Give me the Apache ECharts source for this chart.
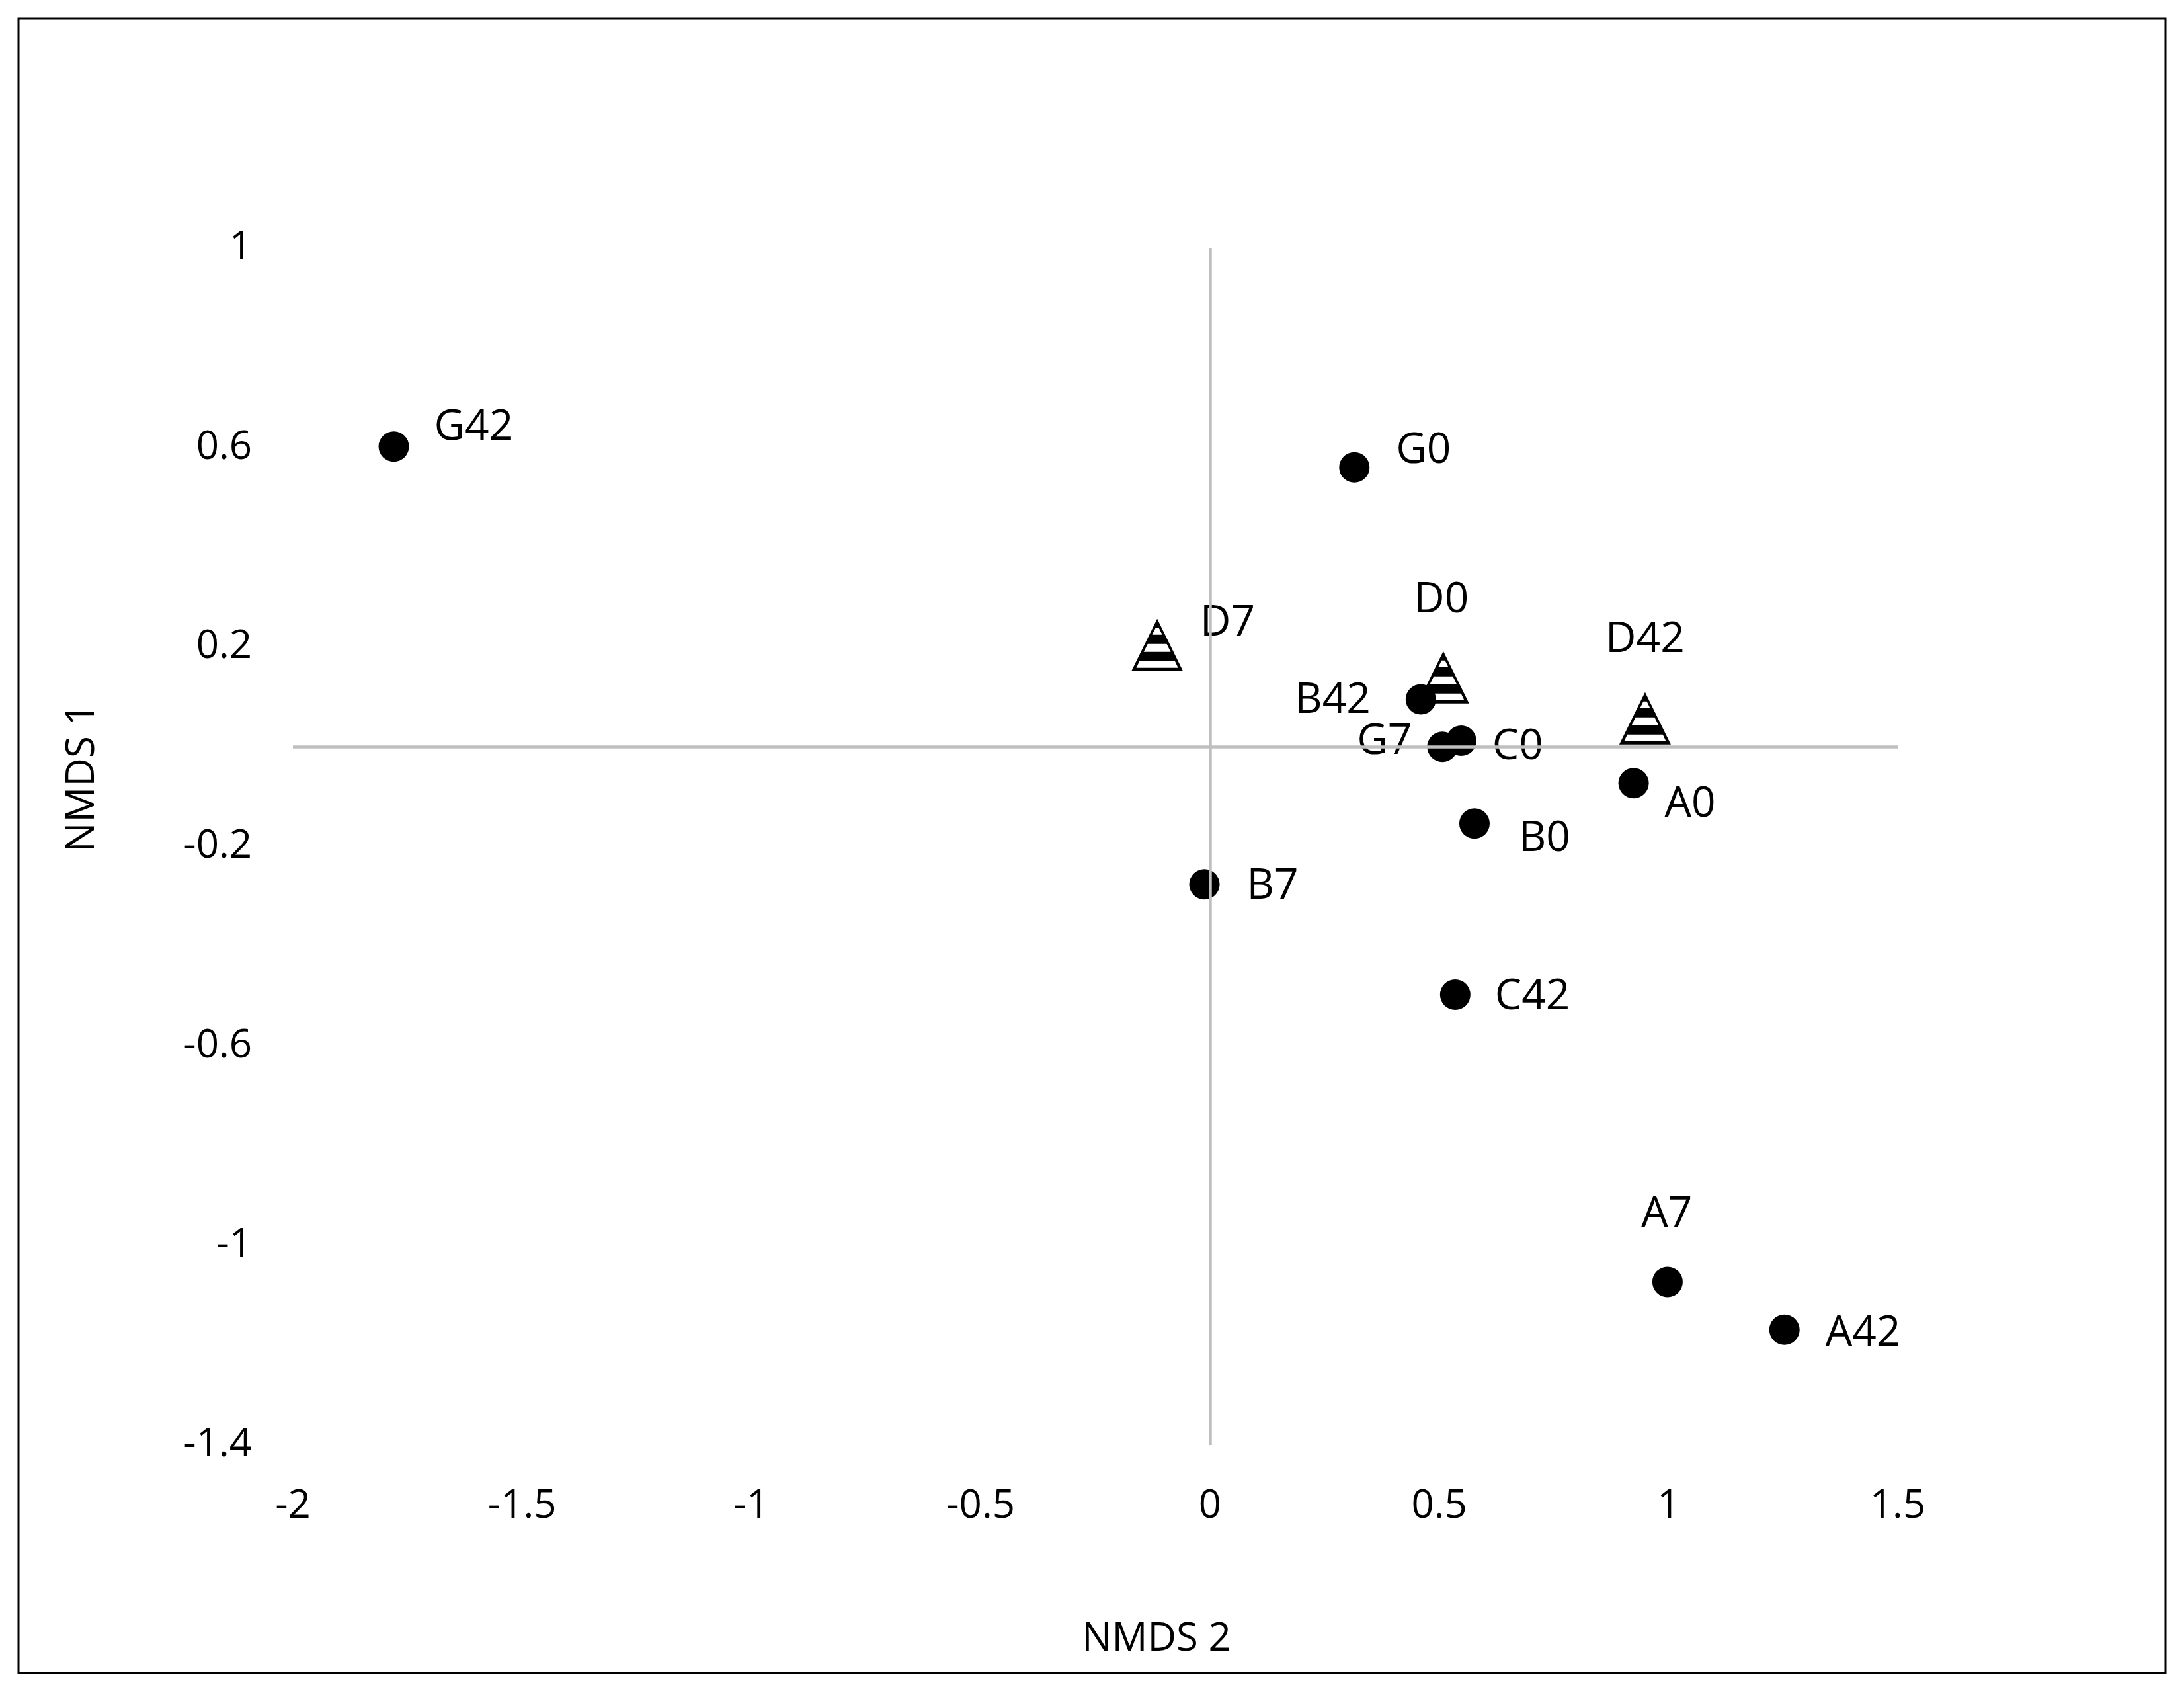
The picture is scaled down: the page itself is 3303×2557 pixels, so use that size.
<!DOCTYPE html>
<html>
<head>
<meta charset="utf-8">
<title>NMDS</title>
<script src="https://cdn.jsdelivr.net/npm/echarts@6/dist/echarts.min.js"></script>
<style>
  html, body { margin: 0; padding: 0; background: #fff; }
  #chart { width: 3303px; height: 2557px; }
</style>
</head>
<body>
<div id="chart"></div>
<script>
// samples drawn as filled circles
const circleNames = ['G42', 'G0', 'B42', 'G7', 'C0', 'A0', 'B0', 'B7', 'C42', 'A7', 'A42'];
const circleX = [-1.78, 0.315, 0.46, 0.507, 0.548, 0.924, 0.577, -0.012, 0.535, 0.998, 1.253];
const circleY = [0.602, 0.56, 0.095, 0.0, 0.012, -0.073, -0.154, -0.276, -0.497, -1.073, -1.169];

// samples drawn as striped triangles
const triNames = ['D7', 'D0', 'D42'];
const triX = [-0.115, 0.509, 0.949];
const triY = [0.204, 0.139, 0.057];

const xTicks = [-2, -1.5, -1, -0.5, 0, 0.5, 1, 1.5];
const yTicks = [-1.4, -1, -0.6, -0.2, 0.2, 0.6, 1];

// label placement: [align, dx, dy] from the marker centre
const labelLayout = {
  G42: ['left', 61, -28],
  G0: ['left', 63, -25],
  B42: ['right', -76, 2],
  G7: ['right', -46, -7],
  C0: ['left', 47, 10],
  A0: ['left', 47, 33],
  B0: ['left', 67, 23],
  B7: ['left', 64, 3],
  C42: ['left', 60, 4],
  A7: ['center', -1, -102],
  A42: ['left', 62, 6],
  D7: ['left', 65, -33],
  D0: ['center', -3, -117],
  D42: ['center', 0, -118]
};

const FONT = "'Open Sans', 'Noto Sans', sans-serif";

// triangle outline with three horizontal bars (holes wound the other way)
const triPath = 'path://M39 0 L78 79 L0 79 Z ' +
  'M36.4 14 L31.4 24 L46.6 24 L41.6 14 Z ' +
  'M24.6 38 L18.6 50 L59.4 50 L53.4 38 Z ' +
  'M12.2 64 L7.4 74 L70.6 74 L65.8 64 Z';

function points(names, xs, ys) {
  return names.map((n, i) => {
    const l = labelLayout[n];
    return {
      name: n,
      value: [xs[i], ys[i]],
      label: {align: l[0], offset: [l[1], l[2]]}
    };
  });
}

const labelBase = {
  show: true,
  position: 'inside',
  verticalAlign: 'middle',
  formatter: '{b}',
  color: '#000',
  opacity: 1,
  fontFamily: FONT,
  fontSize: 64
};

const chart = echarts.init(document.getElementById('chart'));

chart.setOption({
  backgroundColor: '#fff',
  animation: false,
  grid: {left: 443, right: 433, top: 375, bottom: 372},
  xAxis: {
    type: 'value',
    min: -2,
    max: 1.5,
    interval: 0.5,
    axisLine: {show: false},
    axisTick: {show: false},
    splitLine: {show: false},
    axisLabel: {
      margin: 63,
      color: '#000',
      fontFamily: FONT,
      fontSize: 60,
      formatter: v => (xTicks.some(t => Math.abs(t - v) < 1e-9) ? String(+v.toFixed(1)) : '')
    }
  },
  yAxis: {
    type: 'value',
    min: -1.4,
    max: 1,
    interval: 0.2,
    axisLine: {show: false},
    axisTick: {show: false},
    splitLine: {show: false},
    axisLabel: {
      margin: 62,
      color: '#000',
      fontFamily: FONT,
      fontSize: 60,
      formatter: v => (yTicks.some(t => Math.abs(t - v) < 1e-9) ? String(+v.toFixed(1)) : '')
    }
  },
  graphic: [
    {
      type: 'rect',
      shape: {x: 28, y: 28, width: 3247, height: 2502},
      style: {fill: 'none', stroke: '#000', lineWidth: 3},
      silent: true
    },
    {
      type: 'text',
      x: 1749,
      y: 2479,
      style: {text: 'NMDS 2', font: '60px ' + FONT, fill: '#000', align: 'center', verticalAlign: 'middle'},
      silent: true
    },
    {
      type: 'text',
      x: 125,
      y: 1176,
      rotation: Math.PI / 2,
      style: {text: 'NMDS 1', font: '60px ' + FONT, fill: '#000', align: 'center', verticalAlign: 'middle'},
      silent: true
    }
  ],
  series: [
    {
      // zero lines
      type: 'scatter',
      data: [],
      z: 1,
      markLine: {
        silent: true,
        symbol: 'none',
        label: {show: false},
        lineStyle: {color: '#bfbfbf', width: 4.5, type: 'solid', opacity: 1},
        data: [{xAxis: 0}, {yAxis: 0}]
      }
    },
    {
      name: 'circles',
      type: 'scatter',
      z: 3,
      symbol: 'circle',
      symbolSize: 46,
      itemStyle: {color: '#000', opacity: 1},
      label: labelBase,
      data: points(circleNames, circleX, circleY)
    },
    {
      name: 'triangles',
      type: 'scatter',
      z: 3,
      symbol: triPath,
      symbolSize: [78, 79],
      itemStyle: {color: '#000', opacity: 1},
      label: labelBase,
      data: points(triNames, triX, triY)
    }
  ]
});
</script>
</body>
</html>
